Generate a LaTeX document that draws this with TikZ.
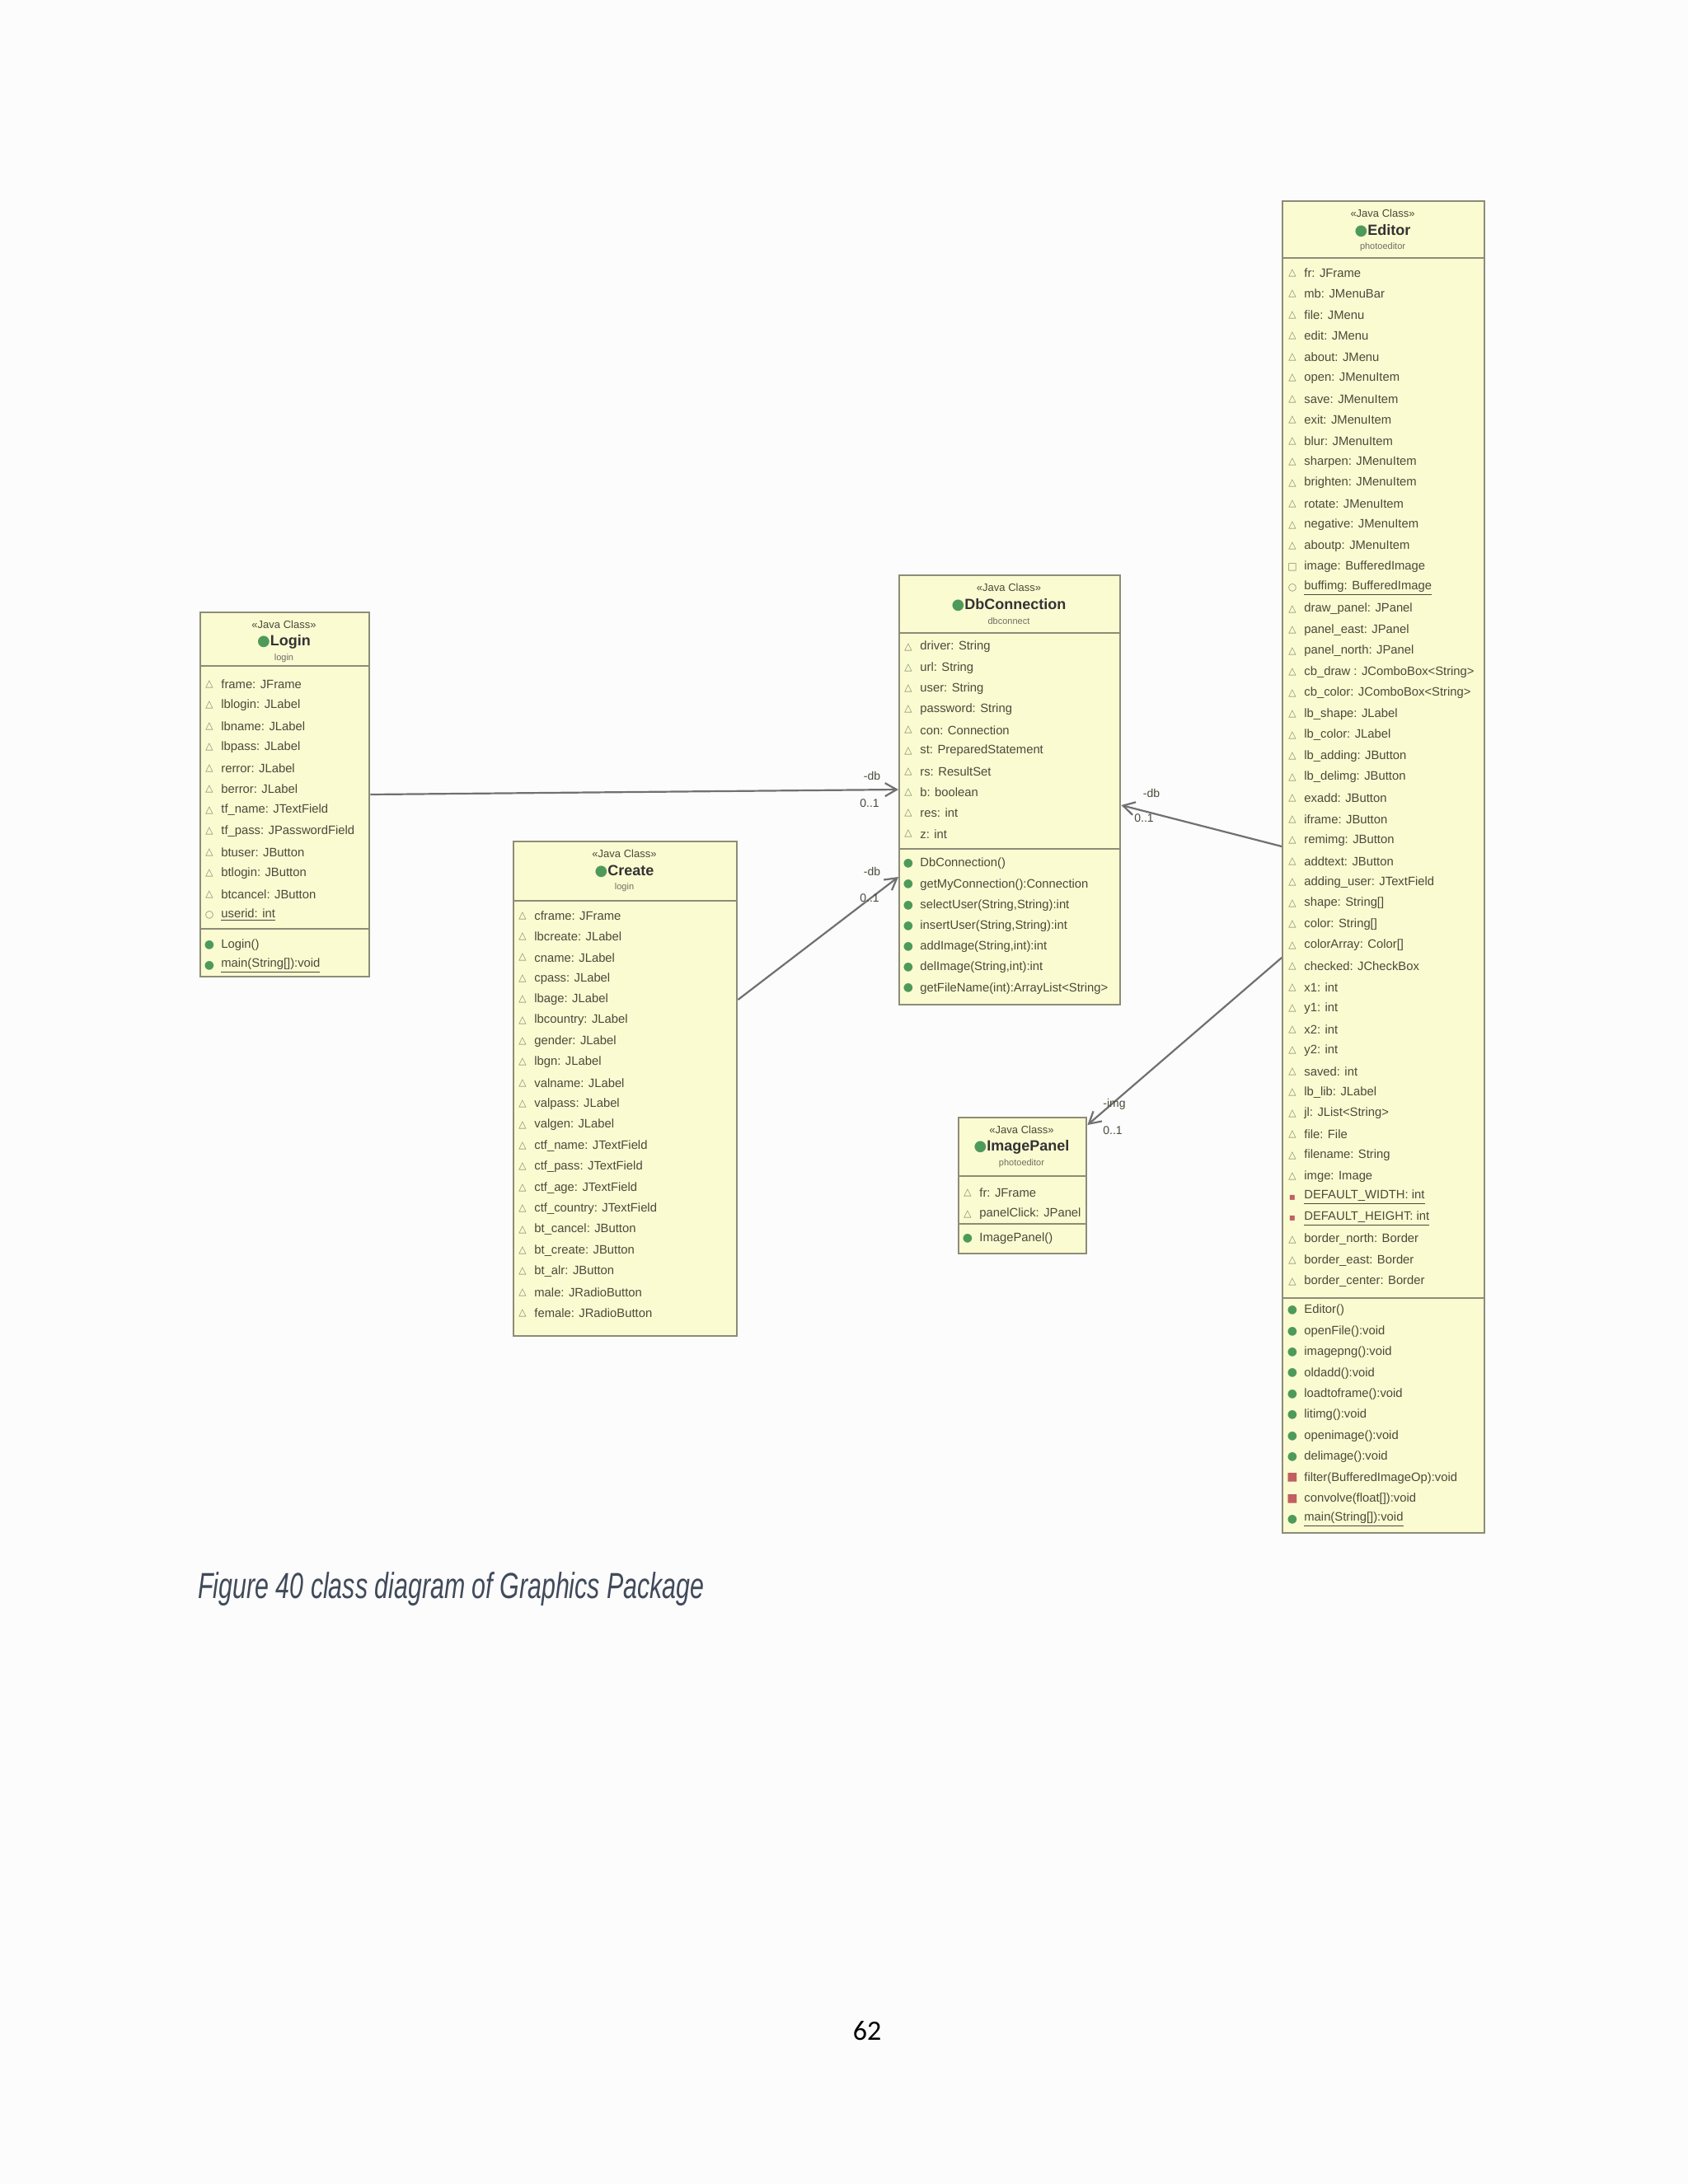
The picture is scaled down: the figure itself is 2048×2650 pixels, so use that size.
\documentclass[tikz,border=0pt]{standalone}
\usepackage{fontspec}
\setmainfont{Liberation Sans}
\newfontfamily\symf{DejaVu Sans}
\newfontfamily\carl{Carlito}
\usetikzlibrary{arrows.meta}
\definecolor{bg}{HTML}{FCFCFD}
\definecolor{boxfill}{HTML}{FBFBD2}
\definecolor{boxdraw}{HTML}{8C8C78}
\definecolor{txt}{HTML}{4A4A3A}
\definecolor{icgreen}{HTML}{4E9A5A}
\definecolor{icred}{HTML}{C06060}
\definecolor{icgray}{HTML}{7A8A6A}
\definecolor{capc}{HTML}{404A5A}
\definecolor{linec}{HTML}{707070}
\newcommand\icoa{{\symf\color{icgray}\fontsize{6}{6}\selectfont △}}
\newcommand\icos{{\symf\color{icgray}\fontsize{6}{6}\selectfont □}}
\newcommand\icop{{\symf\color{icred}\fontsize{6}{6}\selectfont ▪}}
\newcommand\icom{{\symf\color{icgreen}\fontsize{7}{7}\selectfont ●}}
\newcommand\icoc{{\symf\color{icgreen}\fontsize{7}{7}\selectfont ●}}
\newcommand\icor{{\symf\color{icred}\fontsize{7}{7}\selectfont ■}}
\newcommand\icoq{{\symf\color{icgreen}\fontsize{7}{7}\selectfont ●}}
\newcommand\icou{{\symf\color{icgray}\fontsize{6}{6}\selectfont ○}}
\tikzset{
  cls/.style={draw=boxdraw, fill=boxfill, line width=1.2pt, anchor=north west, inner sep=0pt},
  sepl/.style={draw=boxdraw, line width=1.2pt},
  rowst/.style={anchor=west, inner sep=0pt, text=txt, font=\fontsize{7.4}{9}\selectfont},
  iconst/.style={inner sep=0pt},
  stereo/.style={inner sep=0pt, text=txt, font=\fontsize{6.5}{7}\selectfont},
  cname/.style={inner sep=0pt, text=black!80, font=\fontsize{9}{10}\selectfont\bfseries},
  pkg/.style={inner sep=0pt, text=txt!80, font=\fontsize{5.5}{6}\selectfont},
  assoc/.style={draw=linec, line width=1.1pt, -{Straight Barb[length=7pt,width=8pt]}},
  lab/.style={inner sep=0pt, text=txt, font=\fontsize{7}{8}\selectfont}
}
\newcommand\myrows[4]{\foreach \ic/\t [count=\i] in {#4} {
  \node[iconst] at (#1, {#2+(\i-1)*#3}) {\csname ico\ic\endcsname};
  \node[rowst] at ({#1+14}, {#2+(\i-1)*#3}) {\t};}}
\newcommand\myhead[5]{% x center, top, stereotype, name, package
  \node[stereo] at (#1,{#2+16}) {<<Java Class>>};
  \node[cname] at (#1,{#2+37}) {{\symf\color{icgreen}\fontsize{9}{9}\selectfont ●}#4};
  \node[pkg] at (#1,{#2+57}) {#5};}
\begin{document}
\begin{tikzpicture}[x=0.5pt,y=-0.5pt]
\fill[bg] (0,0) rectangle (2048,2650);
\useasboundingbox (0,0) rectangle (2048,2650);

% Login
\node[cls, minimum width=102.5pt, minimum height=221pt] (login) at (242,742) {};
\myhead{344.5}{742}{}{Login}{login}
\draw[sepl] (242,808) -- (447,808);
\draw[sepl] (242,1127) -- (447,1127);
\myrows{254}{830}{25.5}{a/{frame: JFrame},a/{lblogin: JLabel},a/{lbname: JLabel},a/{lbpass: JLabel},a/{rerror: JLabel},a/{berror: JLabel},a/{tf\_name: JTextField},a/{tf\_pass: JPasswordField},a/{btuser: JButton},a/{btlogin: JButton},a/{btcancel: JButton},u/{\underline{userid: int}}}
\myrows{254}{1147}{25}{c/{Login()},q/{\underline{main(String[]):void}}}

% Create
\node[cls, minimum width=135.5pt, minimum height=300pt] (create) at (622,1020) {};
\myhead{757.5}{1020}{}{Create}{login}
\draw[sepl] (622,1093) -- (893,1093);
\myrows{634}{1111}{25.4}{a/{cframe: JFrame},a/{lbcreate: JLabel},a/{cname: JLabel},a/{cpass: JLabel},a/{lbage: JLabel},a/{lbcountry: JLabel},a/{gender: JLabel},a/{lbgn: JLabel},a/{valname: JLabel},a/{valpass: JLabel},a/{valgen: JLabel},a/{ctf\_name: JTextField},a/{ctf\_pass: JTextField},a/{ctf\_age: JTextField},a/{ctf\_country: JTextField},a/{bt\_cancel: JButton},a/{bt\_create: JButton},a/{bt\_alr: JButton},a/{male: JRadioButton},a/{female: JRadioButton}}

% DbConnection
\node[cls, minimum width=134pt, minimum height=260.5pt] (db) at (1090,697) {};
\myhead{1224}{697}{}{DbConnection}{dbconnect}
\draw[sepl] (1090,768) -- (1358,768);
\draw[sepl] (1090,1030) -- (1358,1030);
\myrows{1102}{785}{25.2}{a/{driver: String},a/{url: String},a/{user: String},a/{password: String},a/{con: Connection},a/{st: PreparedStatement},a/{rs: ResultSet},a/{b: boolean},a/{res: int},a/{z: int}}
\myrows{1102}{1048}{25.2}{c/{DbConnection()},m/{getMyConnection():Connection},m/{selectUser(String,String):int},m/{insertUser(String,String):int},m/{addImage(String,int):int},m/{delImage(String,int):int},m/{getFileName(int):ArrayList<String>}}

% ImagePanel
\node[cls, minimum width=77.5pt, minimum height=82.5pt] (imgp) at (1162,1355) {};
\myhead{1239.5}{1355}{}{ImagePanel}{photoeditor}
\draw[sepl] (1162,1427) -- (1317,1427);
\draw[sepl] (1162,1485) -- (1317,1485);
\myrows{1174}{1447}{26}{a/{fr: JFrame},a/{panelClick: JPanel}}
\myrows{1174}{1503}{25}{c/{ImagePanel()}}

% Editor
\node[cls, minimum width=122.5pt, minimum height=808pt] (editor) at (1555,243) {};
\myhead{1677.5}{243}{}{Editor}{photoeditor}
\draw[sepl] (1555,313) -- (1800,313);
\draw[sepl] (1555,1575) -- (1800,1575);
\myrows{1568}{331}{25.5}{a/{fr: JFrame},a/{mb: JMenuBar},a/{file: JMenu},a/{edit: JMenu},a/{about: JMenu},a/{open: JMenuItem},a/{save: JMenuItem},a/{exit: JMenuItem},a/{blur: JMenuItem},a/{sharpen: JMenuItem},a/{brighten: JMenuItem},a/{rotate: JMenuItem},a/{negative: JMenuItem},a/{aboutp: JMenuItem},s/{image: BufferedImage},u/{\underline{buffimg: BufferedImage}},a/{draw\_panel: JPanel},a/{panel\_east: JPanel},a/{panel\_north: JPanel},a/{cb\_draw : JComboBox<String>},a/{cb\_color: JComboBox<String>},a/{lb\_shape: JLabel},a/{lb\_color: JLabel},a/{lb\_adding: JButton},a/{lb\_delimg: JButton},a/{exadd: JButton},a/{iframe: JButton},a/{remimg: JButton},a/{addtext: JButton},a/{adding\_user: JTextField},a/{shape: String[]},a/{color: String[]},a/{colorArray: Color[]},a/{checked: JCheckBox},a/{x1: int},a/{y1: int},a/{x2: int},a/{y2: int},a/{saved: int},a/{lb\_lib: JLabel},a/{jl: JList<String>},a/{file: File},a/{filename: String},a/{imge: Image},p/{\underline{DEFAULT\_WIDTH: int}},p/{\underline{DEFAULT\_HEIGHT: int}},a/{border\_north: Border},a/{border\_east: Border},a/{border\_center: Border}}
\myrows{1568}{1590}{25.4}{c/{Editor()},m/{openFile():void},m/{imagepng():void},m/{oldadd():void},m/{loadtoframe():void},m/{litimg():void},m/{openimage():void},m/{delimage():void},r/{filter(BufferedImageOp):void},r/{convolve(float[]):void},q/{\underline{main(String[]):void}}}

% connectors
\draw[assoc] (login.east |- 0,964) -- (db.west |- 0,958);
\node[lab] at (1058,941) {-db};
\node[lab] at (1055,975) {0..1};
\draw[assoc] (create.east |- 0,1213) -- (db.west |- 0,1064);
\node[lab] at (1058,1057) {-db};
\node[lab] at (1055,1090) {0..1};
\draw[assoc] (editor.west |- 0,1027) -- (db.east |- 0,977);
\node[lab] at (1397,962) {-db};
\node[lab] at (1388,993) {0..1};
\draw[assoc] (editor.west |- 0,1162) -- (imgp.east |- 0,1365);
\node[lab] at (1352,1340) {-img};
\node[lab] at (1350,1372) {0..1};

% caption and page number
\node[anchor=west, inner sep=0pt, text=capc, font=\fontsize{22}{26}\selectfont\itshape] (cap) at (240,1928) {\scalebox{0.69}[1]{Figure 40 class diagram of Graphics Package}};
\node[inner sep=0pt, font=\carl\fontsize{17}{20}\selectfont] (pg) at (1052,2464) {62};
\end{tikzpicture}
\end{document}
